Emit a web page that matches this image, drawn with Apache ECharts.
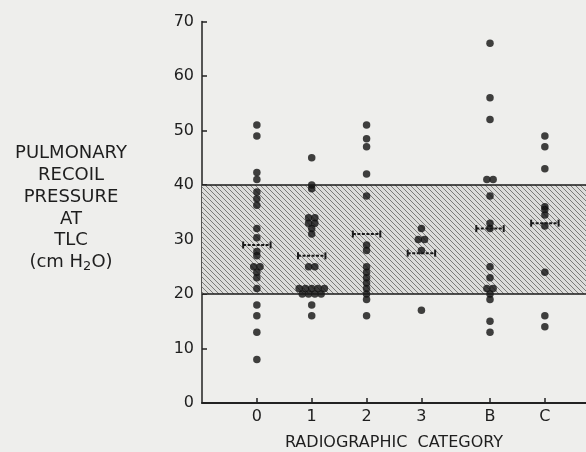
<!DOCTYPE html>
<html>
<head>
<meta charset="utf-8">
<script src="https://cdn.jsdelivr.net/npm/echarts@6/dist/echarts.min.js"></script>
<style>
html,body{margin:0;padding:0;background:#eeeeec;}
#c{width:586px;height:452px;}
</style>
</head>
<body>
<div id="c"></div>
<script>
// ---- data ----
const categories = ['0', '1', '2', '3', 'B', 'C'];
const cat0 = [51, 49, 42.3, 41, 38.7, 37.5, 36.3, 32, 30.3, 27.8, 27, 25, 25, 24, 23, 21, 18, 16, 13, 8];
const cat1 = [45, 40, 39.3, 34, 34, 33, 33, 32, 31, 25, 25, 21, 21, 21, 21, 21, 20, 20, 20, 20, 18, 16];
const cat2 = [51, 48.5, 47, 42, 38, 29, 28, 25, 24, 23, 22, 21, 20, 19, 16];
const cat3 = [32, 30, 30, 28, 17];
const catB = [66, 56, 52, 41, 41, 38, 33, 32, 25, 23, 21, 21, 20, 19, 15, 13];
const catC = [49, 47, 43, 36, 35.5, 34.5, 32.5, 24, 16, 14];
const means = [29, 27, 31, 27.5, 32, 33];
const normalLow = 20;
const normalHigh = 40;
const yTickValues = [0, 10, 20, 30, 40, 50, 60, 70];

const groups = [cat0, cat1, cat2, cat3, catB, catC];
// letter categories sit a little further apart from the numeric ones
const xPos = categories.map((c, i) => i + (isNaN(Number(c)) ? 0.25 : 0));

// side-by-side placement for identical values
const points = [];
groups.forEach((vals, gi) => {
  const counts = {};
  vals.forEach(v => { counts[v] = (counts[v] || 0) + 1; });
  const seen = {};
  vals.forEach(v => {
    const n = counts[v];
    const k = seen[v] = (seen[v] === undefined ? 0 : seen[v] + 1);
    const off = (k - (n - 1) / 2) * 0.115;
    points.push([xPos[gi] + off, v]);
  });
});

const meanData = means.map((m, i) => [xPos[i], m]);

// hatch pattern
const pc = document.createElement('canvas');
pc.width = 5; pc.height = 5;
const ctx = pc.getContext('2d');
ctx.fillStyle = '#dcdcda';
ctx.fillRect(0, 0, 5, 5);
ctx.strokeStyle = '#6e6e6e';
ctx.lineWidth = 0.9;
ctx.beginPath();
ctx.moveTo(-1, -1); ctx.lineTo(6, 6);
ctx.moveTo(-1, 4); ctx.lineTo(1, 6);
ctx.moveTo(4, -1); ctx.lineTo(6, 1);
ctx.stroke();

const chart = echarts.init(document.getElementById('c'), null, {renderer: 'canvas'});
const txt = '#1e1e1e';
const font = 'DejaVu Sans';

chart.setOption({
  backgroundColor: '#eeeeec',
  animation: false,
  grid: {left: 202, right: 0, top: 21.5, bottom: 49, containLabel: false, outerBoundsMode: 'none'},
  xAxis: {
    type: 'value', min: -1, max: 6,
    splitLine: {show: false},
    axisLine: {show: true, onZero: false, lineStyle: {color: '#222', width: 2}},
    axisTick: {show: true, inside: true, length: 5, customValues: xPos, lineStyle: {color: '#222', width: 1.5}},
    axisLabel: {
      show: true, customValues: xPos, margin: 6,
      color: txt, fontFamily: font, fontSize: 16,
      formatter: v => { const i = xPos.findIndex(p => Math.abs(p - v) < 1e-6); return i >= 0 ? categories[i] : ''; }
    },
    name: 'RADIOGRAPHIC  CATEGORY', nameLocation: 'middle', nameGap: 32,
    nameTextStyle: {color: txt, fontFamily: font, fontSize: 16}
  },
  yAxis: {
    type: 'value', min: 0, max: 70, interval: 10,
    splitLine: {show: false},
    axisLine: {show: true, onZero: false, lineStyle: {color: '#222', width: 1.5}},
    axisTick: {show: true, inside: true, length: 5, lineStyle: {color: '#222', width: 1.5}},
    axisLabel: {color: txt, fontFamily: font, fontSize: 16, margin: 8,
      formatter: v => yTickValues.includes(v) ? String(v) : ''}
  },
  graphic: [{
    type: 'text', x: 71, y: 208,
    style: {
      text: 'PULMONARY\nRECOIL\nPRESSURE\nAT\nTLC\n(cm H{sub|2}O)',
      fill: txt, font: '18px "DejaVu Sans"', align: 'center', verticalAlign: 'middle',
      lineHeight: 21.8,
      rich: {sub: {fontSize: 13, fontFamily: font, fill: txt, verticalAlign: 'bottom', lineHeight: 8, padding: [10, 0, 0, 0]}}
    }
  }],
  series: [
    {
      type: 'scatter', data: [], z: 1, silent: true,
      markArea: {
        silent: true,
        itemStyle: {color: {image: pc, repeat: 'repeat'}, borderWidth: 0},
        data: [[{xAxis: -1, yAxis: normalLow}, {xAxis: 6, yAxis: normalHigh}]]
      },
      markLine: {
        silent: true, symbol: 'none', label: {show: false},
        lineStyle: {color: '#1a1a1a', width: 1.5, type: 'solid'},
        data: [{yAxis: normalLow}, {yAxis: normalHigh}]
      }
    },
    {
      type: 'scatter', data: points, z: 3, symbol: 'circle', symbolSize: 7.5,
      itemStyle: {color: '#111111'}
    },
    {
      type: 'custom', z: 4, data: meanData,
      renderItem: (params, api) => {
        const l = api.coord([api.value(0) - 0.25, api.value(1)]);
        const r = api.coord([api.value(0) + 0.25, api.value(1)]);
        const st = {stroke: '#1a1a1a', lineWidth: 2};
        return {type: 'group', children: [
          {type: 'line', shape: {x1: l[0], y1: l[1], x2: r[0], y2: r[1]}, style: {stroke: '#1a1a1a', lineWidth: 2, lineDash: [3, 1.5]}},
          {type: 'line', shape: {x1: l[0], y1: l[1] - 3.5, x2: l[0], y2: l[1] + 3.5}, style: st},
          {type: 'line', shape: {x1: r[0], y1: r[1] - 3.5, x2: r[0], y2: r[1] + 3.5}, style: st}
        ]};
      }
    }
  ]
});
</script>
</body>
</html>
